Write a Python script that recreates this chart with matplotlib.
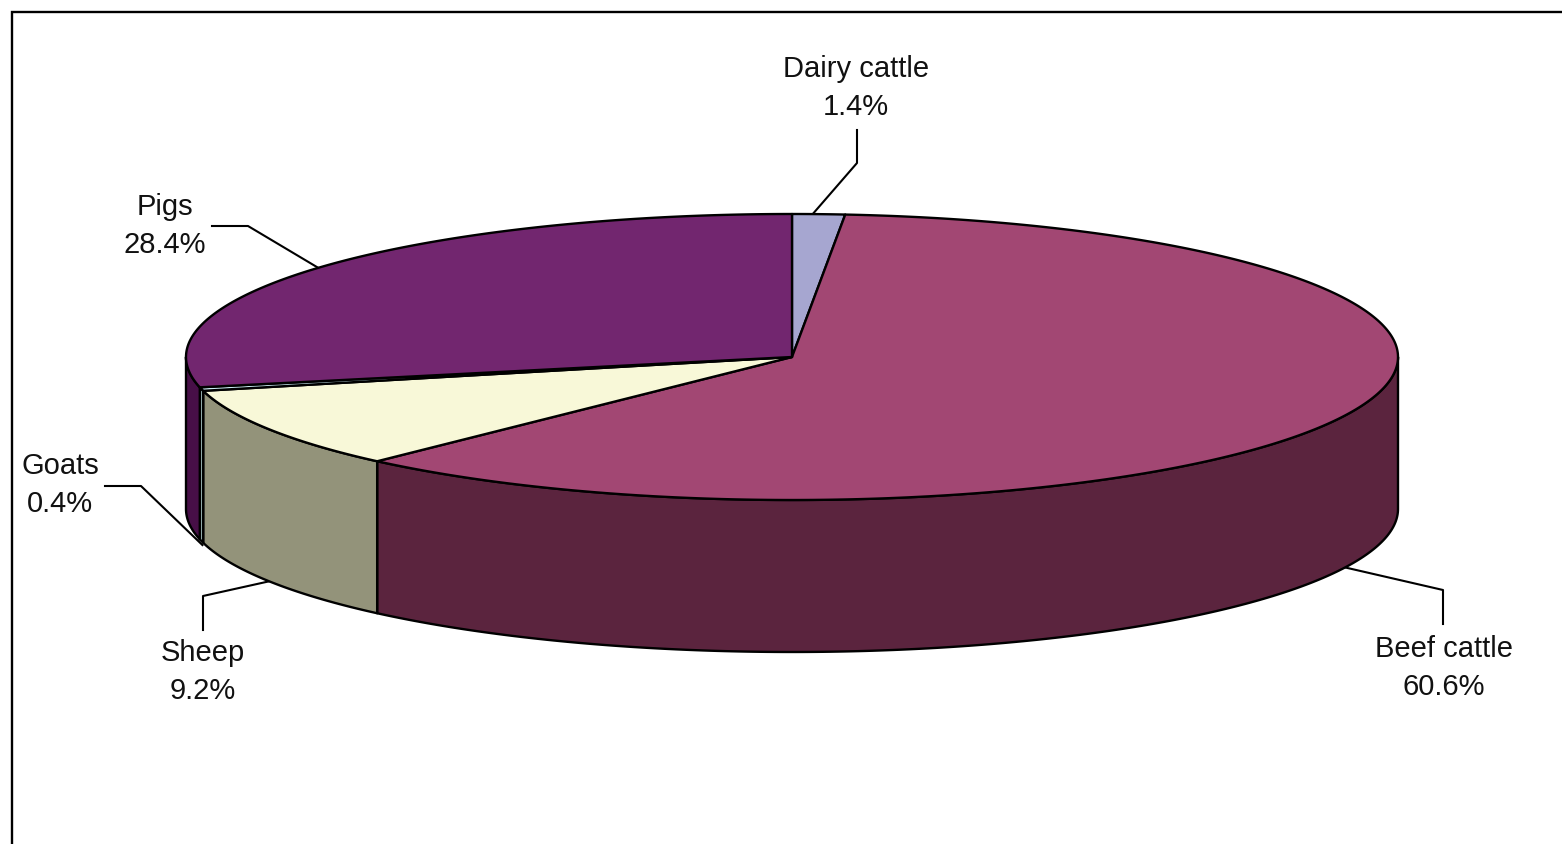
import numpy as np
import matplotlib
matplotlib.use("Agg")
import matplotlib.pyplot as plt

#%% data, clockwise from 12 o'clock
names = ["Dairy cattle", "Beef cattle", "Sheep", "Goats", "Pigs"]
shares = [1.4, 60.6, 9.2, 0.4, 28.4]
top_colors = ["#A6A6D0", "#A24773", "#F8F8D8", "#CCECF4", "#72266F"]
side_colors = ["#7C7C9C", "#5B243E", "#93937A", "#8FA8A8", "#470F47"]

# layout in pixels
cx, cy = 792, 357
rx, ry = 606, 143
depth = 152
label_pos = [(856, 88), (1444, 668), (203, 672), (60, 485), (165, 226)]
leader_nudge = [(-6, 0), (0, 0), (2, 0), (1, 4), (-3, 0)]
elbows = [
    [(857, 163), (857, 130)],
    [(1443, 590), (1443, 624)],
    [(203, 596), (203, 630)],
    [(141, 486), (105, 486)],
    [(248, 226), (212, 226)],
]

plt.rcParams["font.family"] = ["Liberation Sans", "DejaVu Sans"]
LW = 1.7


def rim(t):
    # t is degrees clockwise from the top of the ellipse
    t = np.radians(t)
    return cx + rx * np.sin(t), cy - ry * np.cos(t)


#%% make the figure, one axes unit is one pixel
fig = plt.figure(figsize=(15.62, 8.44), dpi=100)
ax = fig.add_axes([0, 0, 1, 1])
ax.set_xlim(0, 1562)
ax.set_ylim(844, 0)
ax.axis("off")

# chart frame runs off the right and bottom edges
ax.plot([12, 12, 1575], [860, 12, 12], color="black", lw=LW, solid_joinstyle="miter")

edges = np.concatenate([[0], np.cumsum(shares)]) * 360 / sum(shares)

#%% side walls, only the front half of the disc shows one
for i in range(len(shares)):
    a = max(edges[i], 90)
    b = min(edges[i + 1], 270)
    if a >= b:
        continue
    t = np.linspace(a, b, 200)
    x, y = rim(t)
    ax.fill(np.r_[x, x[::-1]], np.r_[y, y[::-1] + depth],
            facecolor=side_colors[i], edgecolor="black", lw=LW, joinstyle="round", zorder=2)

#%% top faces
for i in range(len(shares)):
    t = np.linspace(edges[i], edges[i + 1], 300)
    x, y = rim(t)
    ax.fill(np.r_[cx, x], np.r_[cy, y],
            facecolor=top_colors[i], edgecolor="black", lw=LW, joinstyle="round", zorder=3)

#%% labels and leader lines
for i in range(len(shares)):
    mid = (edges[i] + edges[i + 1]) / 2
    x0, y0 = rim(mid)
    if 90 < mid < 270:
        y0 += depth
    px = [x0 + leader_nudge[i][0]] + [p[0] for p in elbows[i]]
    py = [y0 + leader_nudge[i][1]] + [p[1] for p in elbows[i]]
    ax.plot(px, py, color="black", lw=1.5, zorder=1)
    ax.text(label_pos[i][0], label_pos[i][1], f"{names[i]}\n{shares[i]}%",
            ha="center", va="center", fontsize=21, color="#111111", linespacing=1.44)

fig.savefig("out.png", dpi=100)
